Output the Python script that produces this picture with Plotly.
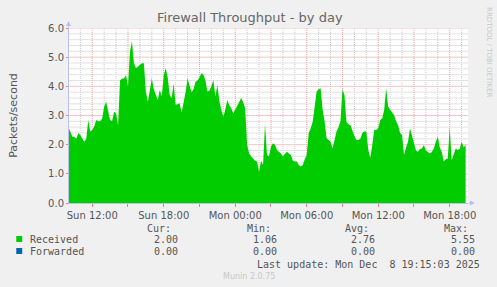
import plotly.graph_objects as go
import pandas as pd

start_time = "2025-12-07 10:00"
step_minutes = 10
received = [
    2.6, 2.45, 2.27, 2.27, 2.2, 2.4, 2.33, 2.2, 2.1, 2.2,
    2.85, 2.45, 2.5, 2.62, 2.85, 2.8, 2.8, 2.9, 3.3, 3.47,
    3.19, 2.85, 2.8, 3.13, 3.07, 2.67, 4.2, 4.27, 4.27, 4.39,
    4.0, 5.19, 5.55, 4.8, 4.62, 4.67, 4.73, 4.79, 4.79, 3.82,
    3.47, 3.93, 4.27, 3.9, 3.7, 3.53, 3.87, 3.65, 4.39, 4.62,
    4.3, 3.7, 3.59, 4.1, 3.36, 3.4, 3.42, 3.1, 3.4, 3.8,
    4.27, 4.0, 3.8, 3.9, 4.16, 4.2, 4.3, 4.45, 4.4, 4.2,
    3.82, 3.85, 4.0, 4.22, 3.65, 4.05, 3.5, 3.2, 2.96, 3.2,
    3.53, 3.35, 3.25, 3.07, 3.2, 3.36, 3.45, 3.6, 3.45, 3.25,
    1.99, 1.7, 1.6, 1.53, 1.45, 1.42, 1.06, 1.45, 1.3, 2.7,
    1.65, 1.6, 1.93, 2.05, 2.0, 1.82, 1.76, 1.7, 1.6, 1.7,
    1.76, 1.7, 1.65, 1.45, 1.42, 1.42, 1.3, 1.25, 1.3, 1.5,
    1.65, 2.4, 2.56, 2.79, 3.3, 3.82, 3.9, 3.93, 3.2, 2.8,
    2.22, 2.15, 2.1, 1.87, 2.2, 2.45, 2.6, 2.8, 3.9, 3.7,
    2.79, 2.7, 2.67, 2.45, 2.3, 2.16, 2.16, 2.2, 2.4, 2.45,
    2.45, 1.82, 1.55, 2.0, 2.5, 2.5, 2.56, 2.85, 2.9, 3.2,
    3.93, 3.3, 3.19, 3.1, 3.02, 2.8, 2.67, 2.4, 2.33, 1.65,
    1.9, 2.1, 2.56, 2.3, 1.99, 1.8, 1.76, 1.85, 1.87, 1.99,
    1.8, 1.76, 1.7, 1.75, 1.87, 2.1, 2.27, 1.9, 1.76, 1.42,
    1.5, 1.53, 2.56, 1.47, 1.7, 1.87, 1.82, 1.85, 2.1, 1.9, 2.0,
]
forwarded = [0.0] * len(received)
times = pd.date_range(start_time, periods=len(received), freq=f"{step_minutes}min")

y_ticks = [0, 1, 2, 3, 4, 5, 6]
y_ticklabels = ["0.0", "1.0", "2.0", "3.0", "4.0", "5.0", "6.0"]
y_minor = [round(0.2 * i, 1) for i in range(1, 30) if i % 5 != 0]
x_gridvals = pd.date_range("2025-12-07 12:00", "2025-12-08 18:00", freq="3h")
x_labels = {
    "2025-12-07 12:00": "Sun 12:00", "2025-12-07 18:00": "Sun 18:00",
    "2025-12-08 00:00": "Mon 00:00", "2025-12-08 06:00": "Mon 06:00",
    "2025-12-08 12:00": "Mon 12:00", "2025-12-08 18:00": "Mon 18:00",
}
x_ticktext = [x_labels.get(t.strftime("%Y-%m-%d %H:%M"), "") for t in x_gridvals]
x_minorvals = [t for t in pd.date_range("2025-12-07 11:00", "2025-12-08 19:00", freq="1h")
               if t.hour % 3 != 0]

legend_names = ["Received", "Forwarded"]
legend_colors = ["#00cc00", "#0066b3"]
stat_headers = ["Cur:", "Min:", "Avg:", "Max:"]
stats = [["2.00", "1.06", "2.76", "5.55"], ["0.00", "0.00", "0.00", "0.00"]]
last_update = "Last update: Mon Dec  8 19:15:03 2025"

W, H = 497, 287
L, R, T, B = 67, 468, 28, 203

def px(x):
    return (x - L) / (R - L)

def py(y):
    return (B - y) / (B - T)

fig = go.Figure()
fig.add_trace(go.Scatter(x=times, y=received, mode="lines", fill="tozeroy",
                         line=dict(width=0, color="#00cc00"),
                         fillcolor="#00cc00", name="Received", showlegend=False))
fig.add_trace(go.Scatter(x=times, y=forwarded, mode="lines",
                         line=dict(width=0, color="#0066b3"),
                         name="Forwarded", showlegend=False))

dots = "1px,1px"
red_grid = "#f0a0a0"
gray_grid = "#c8c8c8"
red_grid_h = "#f6c4c4"
gray_grid_h = "#e2e2e2"
shapes = []
for t in x_minorvals:
    shapes.append(dict(type="line", xref="x", yref="paper", x0=t, x1=t, y0=0, y1=1,
                       layer="below", line=dict(color=gray_grid, width=1, dash=dots)))
for v in y_minor:
    shapes.append(dict(type="line", xref="paper", yref="y", x0=0, x1=1, y0=v, y1=v,
                       layer="below", line=dict(color=gray_grid_h, width=1)))
for t in x_gridvals:
    shapes.append(dict(type="line", xref="x", yref="paper", x0=t, x1=t, y0=0, y1=1,
                       layer="below", line=dict(color=red_grid, width=1, dash=dots)))
for v in y_ticks[1:]:
    shapes.append(dict(type="line", xref="paper", yref="y", x0=0, x1=1, y0=v, y1=v,
                       layer="below", line=dict(color=red_grid_h, width=1)))

mono = "DejaVu Sans Mono"
txt = "#555555"
ann = []
ann.append(dict(text="Firewall Throughput - by day", xref="paper", yref="paper",
                x=px(249), y=py(18), showarrow=False, xanchor="center", yanchor="middle",
                font=dict(family="DejaVu Sans", size=13, color="#666666")))
ann.append(dict(text="RRDTOOL / TOBI OETIKER", xref="paper", yref="paper",
                x=px(489), y=py(52), showarrow=False, textangle=90,
                xanchor="center", yanchor="middle",
                font=dict(family="DejaVu Sans", size=7, color="#c8c8c8")))
hdr_right = [172, 272, 371, 470]
val_right = [179, 278, 377, 477]
for h, xr in zip(stat_headers, hdr_right):
    ann.append(dict(text=h, xref="paper", yref="paper", x=px(xr), y=py(228),
                    showarrow=False, xanchor="right", yanchor="middle",
                    font=dict(family=mono, size=10, color=txt)))
row_y = [239, 251]
for i, (name, col) in enumerate(zip(legend_names, legend_colors)):
    ann.append(dict(text=name, xref="paper", yref="paper", x=px(26), y=py(row_y[i]),
                    showarrow=False, xanchor="left", yanchor="middle",
                    font=dict(family=mono, size=10, color=txt)))
    shapes.append(dict(type="rect", xref="paper", yref="paper",
                       x0=px(14), x1=px(20), y0=py(row_y[i] - 3), y1=py(row_y[i] + 3),
                       fillcolor=col, line=dict(width=0)))
    for v, xr in zip(stats[i], val_right):
        ann.append(dict(text=v, xref="paper", yref="paper", x=px(xr), y=py(row_y[i]),
                        showarrow=False, xanchor="right", yanchor="middle",
                        font=dict(family=mono, size=10, color=txt)))
ann.append(dict(text=last_update.replace(" ", "&nbsp;"), xref="paper", yref="paper",
                x=px(482), y=py(264), showarrow=False, xanchor="right", yanchor="middle",
                font=dict(family=mono, size=10, color=txt)))
ann.append(dict(text="Munin 2.0.75", xref="paper", yref="paper", x=px(248), y=py(276),
                showarrow=False, xanchor="center", yanchor="middle",
                font=dict(family="DejaVu Sans", size=8, color="#c8c8c8")))
ann.append(dict(x=px(66.5), y=py(21), ax=0, ay=8, xref="paper", yref="paper",
                axref="pixel", ayref="pixel", showarrow=True, arrowhead=2, arrowsize=1,
                arrowwidth=1, arrowcolor="#b8c0f0", text=""))
ann.append(dict(x=px(475), y=py(203), ax=-8, ay=0, xref="paper", yref="paper",
                axref="pixel", ayref="pixel", showarrow=True, arrowhead=2, arrowsize=1,
                arrowwidth=1, arrowcolor="#b8c0f0", text=""))

fig.update_layout(
    width=W, height=H,
    margin=dict(l=L, r=W - R, t=T, b=H - B),
    paper_bgcolor="#f0f0f0", plot_bgcolor="#ffffff",
    font=dict(family="DejaVu Sans", size=10, color=txt),
    annotations=ann, shapes=shapes, showlegend=False,
)
fig.update_xaxes(
    range=["2025-12-07 10:03", "2025-12-08 19:32"],
    tickmode="array", tickvals=x_gridvals, ticktext=x_ticktext,
    showgrid=False, ticks="outside", ticklen=3, tickcolor="#f08080",
    showline=True, linecolor="#b8c0f0", linewidth=1,
    tickfont=dict(family="DejaVu Sans", size=10, color=txt),
    zeroline=False,
)
fig.update_yaxes(
    range=[0, 6], tickmode="array", tickvals=y_ticks, ticktext=y_ticklabels,
    showgrid=False, ticks="outside", ticklen=2, tickcolor="#f08080",
    showline=True, linecolor="#b8c0f0", linewidth=1,
    tickfont=dict(family="DejaVu Sans", size=10, color=txt),
    title=dict(text="Packets/second", font=dict(family="DejaVu Sans", size=11, color=txt),
               standoff=28),
    zeroline=False,
)

fig.write_html("out.html")
